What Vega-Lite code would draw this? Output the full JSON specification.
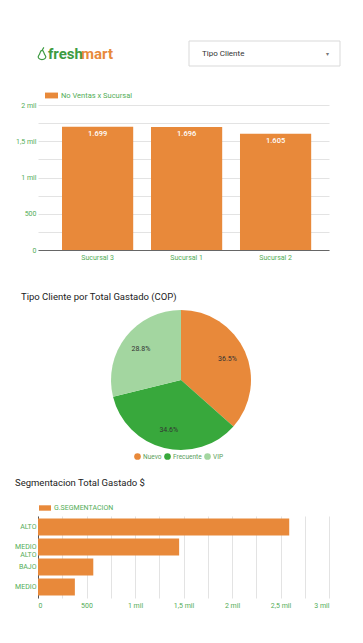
{
  "$schema": "https://vega.github.io/schema/vega-lite/v6.json",
  "background": "white",
  "padding": {"left": 14, "top": 40, "right": 8, "bottom": 8},
  "bounds": "flush",
  "spacing": 39,
  "resolve": {"scale": {"color": "independent"}, "legend": {"color": "independent"}},
  "config": {
    "locale": {"number": {"decimal": ",", "thousands": ".", "grouping": [3], "currency": ["$", ""]}},
    "font": "Roboto",
    "view": {"stroke": null},
    "axis": {"labelFont": "Roboto", "labelFontSize": 7, "labelColor": "#53ad57", "ticks": false, "gridColor": "#e3e3e3", "title": null},
    "legend": {"labelFont": "Roboto"}
  },
  "vconcat": [
    {
      "width": 302,
      "height": 25,
      "layer": [
        {
          "data": {"values": [{"item": "filtro"}]},
          "mark": {"type": "bar", "fill": "white", "stroke": "#d9d9d9", "strokeWidth": 1},
          "encoding": {
            "x": {"field": "item", "type": "nominal", "scale": {"domain": ["logo", "filtro"], "paddingInner": 0, "paddingOuter": 0}, "axis": null}
          }
        },
        {
          "data": {"values": [{"item": "filtro", "texto": "Tipo Cliente"}]},
          "mark": {"type": "text", "align": "left", "dx": 13, "fontSize": 8, "color": "#333333"},
          "encoding": {
            "x": {"field": "item", "type": "nominal", "bandPosition": 0},
            "text": {"field": "texto"}
          }
        },
        {
          "data": {"values": [{"item": "filtro", "texto": "▾"}]},
          "mark": {"type": "text", "align": "center", "dx": -13, "fontSize": 6, "color": "#777777"},
          "encoding": {
            "x": {"field": "item", "type": "nominal", "bandPosition": 1},
            "text": {"field": "texto"}
          }
        },
        {
          "data": {"values": [{"item": "logo", "texto": "fresh"}]},
          "mark": {"type": "text", "align": "left", "dx": 10, "fontSize": 15, "fontWeight": "bold", "color": "#3d9b41"},
          "encoding": {
            "x": {"field": "item", "type": "nominal", "bandPosition": 0},
            "text": {"field": "texto"}
          }
        },
        {
          "data": {"values": [{"item": "logo", "texto": "mart"}]},
          "mark": {"type": "text", "align": "left", "dx": 43, "fontSize": 15, "fontWeight": "bold", "color": "#e8893a"},
          "encoding": {
            "x": {"field": "item", "type": "nominal", "bandPosition": 0},
            "text": {"field": "texto"}
          }
        },
        {
          "data": {"values": [{"item": "logo"}]},
          "mark": {"type": "point", "shape": "M0,-0.5 C0.35,-0.5 0.2,-0.05 0.55,0.35 C0.8,0.7 0.4,1 0,1 C-0.4,1 -0.8,0.7 -0.55,0.35 C-0.2,-0.05 -0.35,-0.5 0,-0.5 M0,-0.5 L0.3,-1", "size": 150, "filled": false, "stroke": "#3d9b41", "strokeWidth": 1.2, "opacity": 1, "xOffset": 4},
          "encoding": {
            "x": {"field": "item", "type": "nominal", "bandPosition": 0}
          }
        }
      ]
    },
    {
      "width": 291,
      "height": 145,
      "data": {"values": [
        {"sucursal": "Sucursal 3", "ventas": 1699, "serie": "No Ventas x Sucursal"},
        {"sucursal": "Sucursal 1", "ventas": 1696, "serie": "No Ventas x Sucursal"},
        {"sucursal": "Sucursal 2", "ventas": 1605, "serie": "No Ventas x Sucursal"}
      ]},
      "encoding": {
        "x": {"field": "sucursal", "type": "nominal", "sort": null,
          "scale": {"paddingInner": 0.2, "paddingOuter": 0.235, "align": 0.574},
          "axis": {"labelAngle": 0, "domain": true, "domainColor": "#666666", "domainWidth": 1, "labelPadding": 3, "grid": false}},
        "y": {"field": "ventas", "type": "quantitative",
          "scale": {"domain": [0, 2000], "nice": false},
          "axis": {"values": [0, 250, 500, 750, 1000, 1250, 1500, 1750, 2000], "domain": false, "grid": true, "labelPadding": 2,
            "labelExpr": "datum.value % 500 != 0 ? '' : (datum.value >= 1000 ? replace(format(datum.value / 1000, '~g'), '.', ',') + ' mil' : format(datum.value, 'd'))"}}
      },
      "layer": [
        {
          "mark": {"type": "bar"},
          "encoding": {
            "color": {"field": "serie", "type": "nominal", "scale": {"range": ["#e8893a"]},
              "legend": {"orient": "none", "legendX": 7, "legendY": -16, "title": null, "symbolType": "M-1,-0.45H1V0.45H-1Z", "symbolSize": 169, "symbolStrokeWidth": 0, "labelFontSize": 7.5, "labelColor": "#53ad57", "labelOffset": 3}}
          }
        },
        {
          "mark": {"type": "text", "baseline": "top", "dy": 3, "color": "white", "fontSize": 7.5, "fontWeight": 500},
          "encoding": {
            "text": {"field": "ventas", "type": "quantitative", "format": ","}
          }
        }
      ]
    },
    {
      "width": 286,
      "height": 188,
      "title": {"text": "Tipo Cliente por Total Gastado (COP)", "anchor": "start", "frame": "group", "fontSize": 9.5, "fontWeight": "normal", "color": "#222222", "dx": -17, "offset": 0, "baseline": "alphabetic", "dy": 20},
      "data": {"values": [
        {"tipo": "Nuevo", "porcentaje": 36.5, "etiqueta": "36.5%", "orden": 1},
        {"tipo": "Frecuente", "porcentaje": 34.6, "etiqueta": "34.6%", "orden": 2},
        {"tipo": "VIP", "porcentaje": 28.8, "etiqueta": "28.8%", "orden": 3}
      ]},
      "encoding": {
        "theta": {"field": "porcentaje", "type": "quantitative", "stack": true},
        "order": {"field": "orden", "type": "quantitative"}
      },
      "layer": [
        {
          "mark": {"type": "arc", "outerRadius": 70, "yOffset": -3},
          "encoding": {
            "color": {"field": "tipo", "type": "nominal", "sort": ["Nuevo", "Frecuente", "VIP"],
              "scale": {"domain": ["Nuevo", "Frecuente", "VIP"], "range": ["#e8893a", "#38a83c", "#a3d6a0"]},
              "legend": {"orient": "none", "legendX": 96, "legendY": 164, "direction": "horizontal", "title": null, "symbolType": "circle", "symbolSize": 45, "symbolStrokeWidth": 0, "labelFontSize": 6.5, "labelColor": "#5b9e5b", "labelOffset": 2, "columnPadding": 2}}
          }
        },
        {
          "mark": {"type": "text", "radius": 51, "yOffset": -3, "fontSize": 7, "color": "#333333"},
          "encoding": {
            "text": {"field": "etiqueta"}
          }
        }
      ]
    },
    {
      "width": 291,
      "height": 82,
      "title": {"text": "Segmentacion Total Gastado $", "anchor": "start", "frame": "group", "fontSize": 9.5, "fontWeight": "normal", "color": "#222222", "dx": -23, "offset": 7, "baseline": "alphabetic"},
      "data": {"values": [
        {"segmento": "ALTO", "total": 2590, "serie": "G.SEGMENTACION"},
        {"segmento": "MEDIO ALTO", "total": 1455, "serie": "G.SEGMENTACION"},
        {"segmento": "BAJO", "total": 570, "serie": "G.SEGMENTACION"},
        {"segmento": "MEDIO", "total": 380, "serie": "G.SEGMENTACION"}
      ]},
      "mark": {"type": "bar"},
      "encoding": {
        "y": {"field": "segmento", "type": "nominal", "sort": null,
          "scale": {"paddingInner": 0.15, "paddingOuter": 0.125},
          "axis": {"domain": true, "domainColor": "#555555", "labelPadding": 2, "grid": false, "labelLineHeight": 8,
            "labelExpr": "datum.label == 'MEDIO ALTO' ? ['MEDIO', 'ALTO'] : datum.label"}},
        "x": {"field": "total", "type": "quantitative",
          "scale": {"domain": [0, 3000], "nice": false},
          "axis": {"values": [0, 250, 500, 750, 1000, 1250, 1500, 1750, 2000, 2250, 2500, 2750, 3000], "domain": false, "grid": true, "labelPadding": 3,
            "labelExpr": "datum.value % 500 != 0 ? '' : (datum.value >= 1000 ? replace(format(datum.value / 1000, '~g'), '.', ',') + ' mil' : format(datum.value, 'd'))"}},
        "color": {"field": "serie", "type": "nominal", "scale": {"range": ["#e8893a"]},
          "legend": {"orient": "none", "legendX": 1, "legendY": -14, "title": null, "symbolType": "M-1,-0.45H1V0.45H-1Z", "symbolSize": 144, "symbolStrokeWidth": 0, "labelFontSize": 7, "labelColor": "#53ad57", "labelOffset": 3}}
      }
    }
  ]
}
